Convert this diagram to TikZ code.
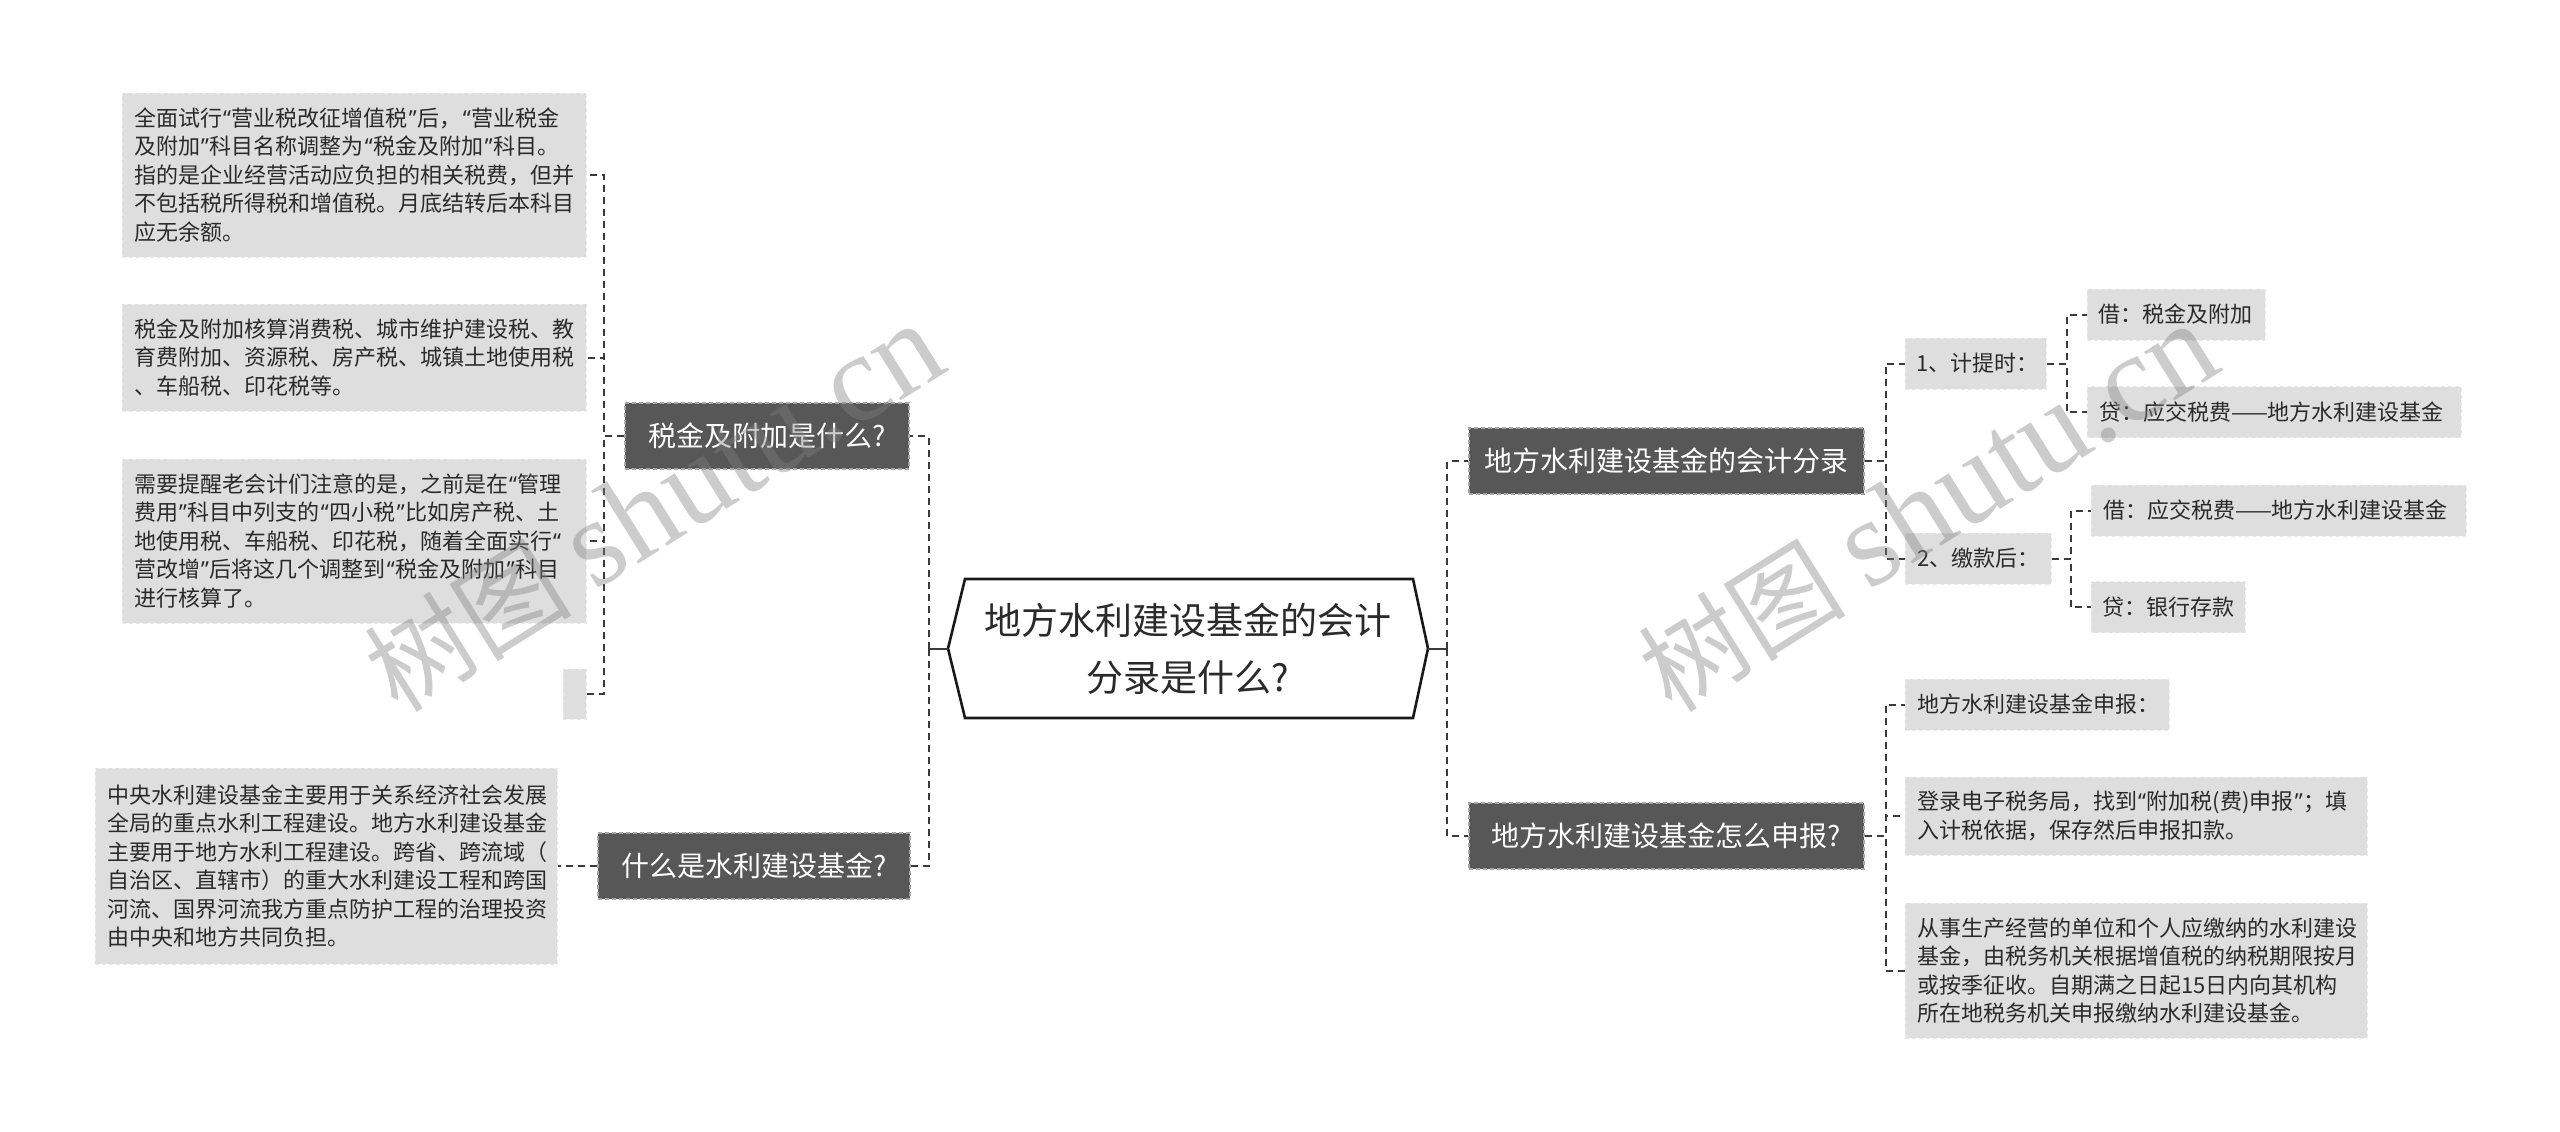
\documentclass[tikz,border=0pt]{standalone}
\usepackage{fontspec}
\setmainfont{Noto Sans CJK SC}
\newfontfamily\wmlatin{Liberation Serif}
\newfontfamily\qfont{Noto Sans}
\newcommand{\ql}{{\kern1pt\qfont “\kern1pt}}
\newcommand{\qr}{{\kern1pt\qfont ”\kern1pt}}
\usetikzlibrary{calc}
\definecolor{darkbox}{HTML}{575757}
\definecolor{leaffill}{HTML}{DEDEDE}
\definecolor{txt}{HTML}{2A2A2A}
\definecolor{linec}{HTML}{3A3A3A}
\begin{document}
\begin{tikzpicture}[x=1pt,y=-1pt,
  leaf/.style={fill=leaffill, draw=white!92!black, dash pattern=on 4pt off 3pt, line width=1pt, inner sep=0pt, align=left, text=txt, font=\fontsize{22}{28.5}\selectfont},
  dark/.style={fill=darkbox, draw=gray!70, dash pattern=on 4pt off 3pt, line width=1.2pt, inner sep=0pt, text=white, font=\fontsize{28}{34}\selectfont},
  conn/.style={draw=linec, line width=2pt, dash pattern=on 7pt off 5pt},
  stub/.style={draw=linec, line width=2pt},
  hexline/.style={draw=black!90, line width=2.6pt, fill=white},
  wm/.style={text=gray, opacity=0.4, rotate=32, inner sep=0pt}]
\useasboundingbox (0,0) rectangle (2560,1132);
% centre
\coordinate (hc) at (1188,648.5);
\path[hexline] ($(hc)+(-240,0)$) -- ($(hc)+(-223,-69.5)$) -- ($(hc)+(225,-69.5)$) -- ($(hc)+(240,0)$) -- ($(hc)+(225,69.5)$) -- ($(hc)+(-223,69.5)$) -- cycle;
\node[inner sep=0pt, minimum width=480, minimum height=139, align=center, text=txt, font=\fontsize{37}{57}\selectfont] (hex) at (hc) {地方水利建设基金的会计\\分录是什么?};
% left main branches
\node[dark, minimum width=284, minimum height=66] (L1) at (767,436) {税金及附加是什么?};
\node[dark, minimum width=312, minimum height=66] (L2) at (754,866) {什么是水利建设基金?};
% right main branches
\node[dark, minimum width=395, minimum height=66] (R1) at (1666.5,461) {地方水利建设基金的会计分录};
\node[dark, minimum width=395, minimum height=66] (R2) at (1666.5,836) {地方水利建设基金怎么申报?};
% left leaves
\node[leaf, minimum width=464, minimum height=164, text width=440] (A1) at (354,175) {全面试行\ql{}营业税改征增值税\qr{}后，\ql{}营业税金\\及附加\qr{}科目名称调整为\ql{}税金及附加\qr{}科目。\\指的是企业经营活动应负担的相关税费，但并\\不包括税所得税和增值税。月底结转后本科目\\应无余额。};
\node[leaf, minimum width=464, minimum height=107, text width=440] (A2) at (354,357.5) {税金及附加核算消费税、城市维护建设税、教\\育费附加、资源税、房产税、城镇土地使用税\\、车船税、印花税等。};
\node[leaf, minimum width=464, minimum height=164, text width=440] (A3) at (354,541) {需要提醒老会计们注意的是，之前是在\ql{}管理\\费用\qr{}科目中列支的\ql{}四小税\qr{}比如房产税、土\\地使用税、车船税、印花税，随着全面实行\ql{}\\营改增\qr{}后将这几个调整到\ql{}税金及附加\qr{}科目\\进行核算了。};
\node[leaf, minimum width=23, minimum height=50] (A4) at (574.5,694) {};
\node[leaf, minimum width=462, minimum height=196, text width=438] (B1) at (326,866) {中央水利建设基金主要用于关系经济社会发展\\全局的重点水利工程建设。地方水利建设基金\\主要用于地方水利工程建设。跨省、跨流域（\\自治区、直辖市）的重大水利建设工程和跨国\\河流、国界河流我方重点防护工程的治理投资\\由中央和地方共同负担。};
% right leaves
\node[leaf, minimum width=141, minimum height=51, text width=118] (C1) at (1975.5,363.5) {1、计提时：};
\node[leaf, minimum width=146, minimum height=51, text width=122] (C2) at (1978,558.5) {2、缴款后：};
\node[leaf, minimum width=178, minimum height=51, text width=155] (D1) at (2176,314.5) {借：税金及附加};
\node[leaf, minimum width=374, minimum height=51, text width=350] (D2) at (2274,412) {贷：应交税费——地方水利建设基金};
\node[leaf, minimum width=375, minimum height=51, text width=351] (D3) at (2278.5,510.5) {借：应交税费——地方水利建设基金};
\node[leaf, minimum width=154, minimum height=51, text width=131] (D4) at (2168,607) {贷：银行存款};
\node[leaf, minimum width=264, minimum height=51, text width=240] (E1) at (2037,704.5) {地方水利建设基金申报：};
\node[leaf, minimum width=462, minimum height=78, text width=438] (E2) at (2136,816) {登录电子税务局，找到\ql{}附加税(费)申报\qr{}；填\\入计税依据，保存然后申报扣款。};
\node[leaf, minimum width=462, minimum height=135, text width=438] (E3) at (2136,970.5) {从事生产经营的单位和个人应缴纳的水利建设\\基金，由税务机关根据增值税的纳税期限按月\\或按季征收。自期满之日起15日内向其机构\\所在地税务机关申报缴纳水利建设基金。};
% connectors
\draw[stub] (hex.west) -- ++(-19,0) coordinate (lbus);
\draw[conn] (lbus) |- (L1.east);
\draw[conn] (lbus) |- (L2.east);
\draw[stub] (hex.east) -- ++(19,0) coordinate (rbus);
\draw[conn] (rbus) |- (R1.west);
\draw[conn] (rbus) |- (R2.west);
\draw[conn] (L1.west) -- ++(-20,0) |- (A1.east);
\draw[conn] (L1.west) -- ++(-20,0) |- (A2.east);
\draw[conn] (L1.west) -- ++(-20,0) |- (A3.east);
\draw[conn] (L1.west) -- ++(-20,0) |- (A4.east);
\draw[conn] (L2.west) -- (B1.east);
\draw[conn] (R1.east) -- ++(21,0) |- (C1.west);
\draw[conn] (R1.east) -- ++(21,0) |- (C2.west);
\draw[conn] (C1.east) -- ++(20,0) |- (D1.west);
\draw[conn] (C1.east) -- ++(20,0) |- (D2.west);
\draw[conn] (C2.east) -- ++(19,0) |- (D3.west);
\draw[conn] (C2.east) -- ++(19,0) |- (D4.west);
\draw[conn] (R2.east) -- ++(21,0) |- (E1.west);
\draw[conn] (R2.east) -- ++(21,0) |- (E2.west);
\draw[conn] (R2.east) -- ++(21,0) |- (E3.west);
% watermarks
\node[wm] (W1) at (654,508) {\fontsize{104}{104}\selectfont 树图 {\wmlatin\fontsize{125}{125}\selectfont shutu.cn}};
\node[wm] (W2) at (1928,508) {\fontsize{104}{104}\selectfont 树图 {\wmlatin\fontsize{125}{125}\selectfont shutu.cn}};
\end{tikzpicture}
\end{document}
